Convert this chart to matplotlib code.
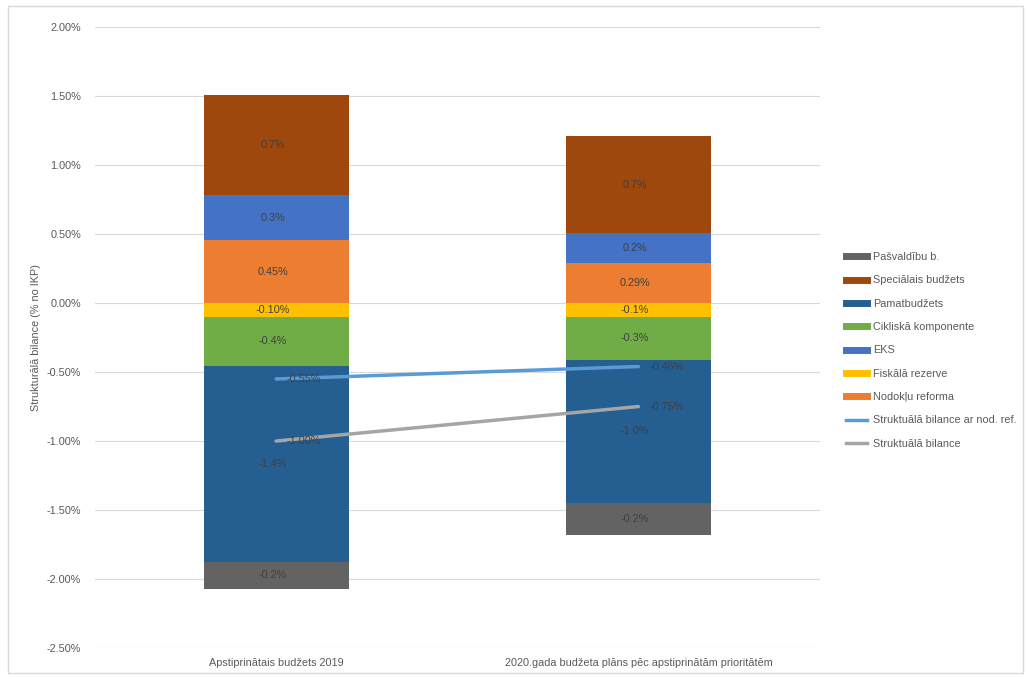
import numpy as np
import matplotlib.pyplot as plt
from matplotlib.lines import Line2D
from matplotlib.patches import Rectangle

plt.rcParams['font.family'] = ['Liberation Sans', 'DejaVu Sans']

categories = ["Apstiprinātais budžets 2019",
              "2020.gada budžeta plāns pēc apstiprinātām prioritātēm"]

# stacked components (% of GDP), in stacking order
pos_names = ["Nodokļu reforma", "EKS", "Speciālais budžets"]
pos_values = [[0.457, 0.29], [0.326, 0.217], [0.724, 0.703]]
pos_labels = [["0.45%", "0.29%"], ["0.3%", "0.2%"], ["0.7%", "0.7%"]]

neg_names = ["Fiskālā rezerve", "Cikliskā komponente", "Pamatbudžets", "Pašvaldību b."]
neg_values = [[-0.10, -0.10], [-0.357, -0.31], [-1.42, -1.04], [-0.193, -0.232]]
neg_labels = [["-0.10%", "-0.1%"], ["-0.4%", "-0.3%"], ["-1.4%", "-1.0%"], ["-0.2%", "-0.2%"]]

line_names = ["Struktuālā bilance ar nod. ref.", "Struktuālā bilance"]
line_values = [[-0.55, -0.46], [-1.00, -0.75]]
line_labels = [["-0.55%", "-0.46%"], ["-1.00%", "-0.75%"]]

colors = {
    "Pašvaldību b.": "#636363",
    "Speciālais budžets": "#9E480E",
    "Pamatbudžets": "#255E91",
    "Cikliskā komponente": "#70AD47",
    "EKS": "#4472C4",
    "Fiskālā rezerve": "#FFC000",
    "Nodokļu reforma": "#ED7D31",
    "Struktuālā bilance ar nod. ref.": "#5B9BD5",
    "Struktuālā bilance": "#A5A5A5",
}
legend_order = ["Pašvaldību b.", "Speciālais budžets", "Pamatbudžets", "Cikliskā komponente",
                "EKS", "Fiskālā rezerve", "Nodokļu reforma",
                "Struktuālā bilance ar nod. ref.", "Struktuālā bilance"]

fig = plt.figure(figsize=(10.27, 6.79), dpi=100)
ax = fig.add_axes([0.0925, 0.0457, 0.7055, 0.9143])

x = np.arange(len(categories))
w = 0.4
txt_col = "#404040"

for names, values, labels in [(pos_names, pos_values, pos_labels), (neg_names, neg_values, neg_labels)]:
    base = np.zeros(len(categories))
    for name, vals, labs in zip(names, values, labels):
        vals = np.array(vals)
        ax.bar(x, vals, w, bottom=base, color=colors[name], zorder=2)
        for xi, b, v, lab in zip(x, base, vals, labs):
            ax.text(xi - 0.01, b + v / 2, lab, ha='center', va='center', fontsize=7.8, color=txt_col, zorder=4)
        base = base + vals

for name, vals, labs in zip(line_names, line_values, line_labels):
    ax.plot(x, vals, color=colors[name], lw=2.5, zorder=3, solid_capstyle='round')
    for xi, v, lab in zip(x, vals, labs):
        ax.text(xi + 0.03, v, lab, ha='left', va='center', fontsize=7.8, color=txt_col, zorder=4)

ax.set_xlim(-0.5, 1.5)
ax.set_ylim(-2.5, 2.0)
ax.set_yticks(np.arange(-2.5, 2.01, 0.5))
ax.set_yticklabels([f"{t:.2f}%" for t in np.arange(-2.5, 2.01, 0.5)])
ax.set_xticks(x)
ax.set_xticklabels(categories)
ax.tick_params(length=0, labelsize=7.8, labelcolor="#595959")
ax.tick_params(axis='x', pad=7)
ax.tick_params(axis='y', pad=10)
ax.grid(axis='y', color="#D9D9D9", lw=0.8, zorder=0)
for s in ax.spines.values():
    s.set_visible(False)
ax.set_ylabel("Strukturālā bilance (% no IKP)", fontsize=7.8, color="#595959", labelpad=4)

handles = []
for name in legend_order:
    lw = 2.5 if name in line_names else 5
    handles.append(Line2D([0], [0], color=colors[name], lw=lw))
fig.legend(handles, legend_order, loc='upper left', bbox_to_anchor=(0.814, 0.643),
           frameon=False, fontsize=7.8, labelcolor="#595959", handlelength=2.0,
           handletextpad=0.5, labelspacing=1.23)

fig.patches.append(Rectangle((8 / 1027, 6 / 679), 1015 / 1027, 667 / 679, transform=fig.transFigure,
                             fill=False, edgecolor="#D9D9D9", lw=1))

plt.savefig("out.png", dpi=100)
